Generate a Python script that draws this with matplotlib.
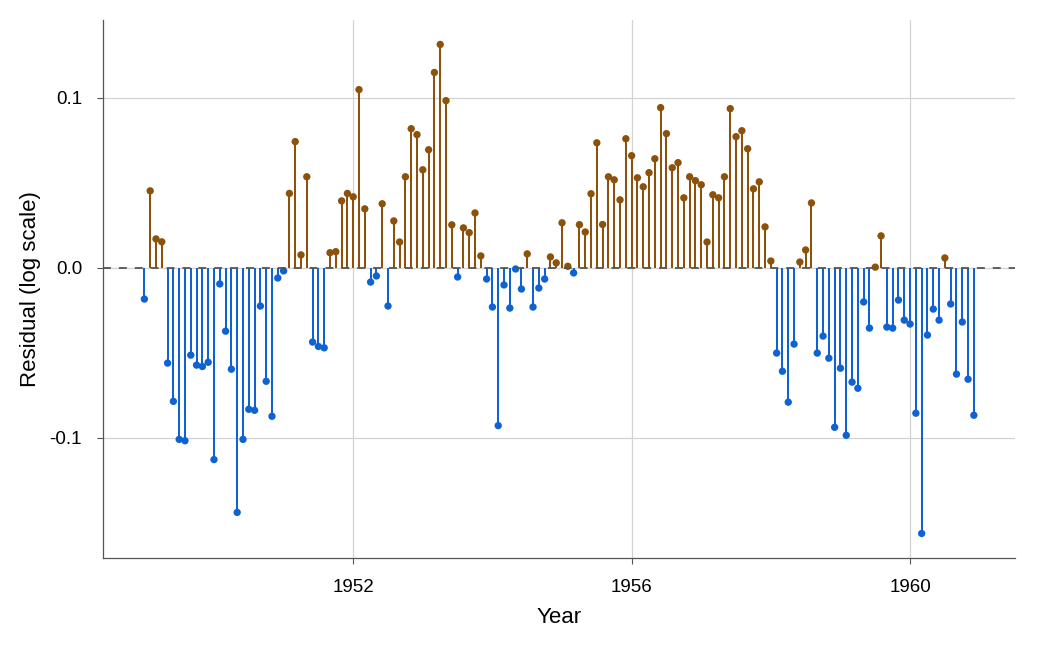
import numpy as np
import matplotlib
matplotlib.use("Agg")
import matplotlib.pyplot as plt

plt.rcParams['font.family'] = ['Liberation Sans', 'DejaVu Sans']
plt.rcParams['axes.unicode_minus'] = False

start_year = 1949
r1949 = [-0.0185, 0.0452, 0.0169, 0.0152, -0.0562, -0.0787, -0.1011, -0.1019, -0.0515, -0.0574, -0.0582, -0.0557]
r1950 = [-0.1130, -0.0096, -0.0374, -0.0598, -0.1441, -0.1011, -0.0834, -0.0840, -0.0226, -0.0669, -0.0875, -0.0061]
r1951 = [-0.0019, 0.0437, 0.0742, 0.0075, 0.0535, -0.0438, -0.0464, -0.0472, 0.0088, 0.0094, 0.0393, 0.0437]
r1952 = [0.0417, 0.1048, 0.0346, -0.0085, -0.0049, 0.0376, -0.0226, 0.0275, 0.0151, 0.0535, 0.0818, 0.0783]
r1953 = [0.0576, 0.0694, 0.1149, 0.1314, 0.0983, 0.0252, -0.0055, 0.0234, 0.0206, 0.0322, 0.0069, -0.0067]
r1954 = [-0.0232, -0.0930, -0.0102, -0.0238, -0.0008, -0.0126, 0.0081, -0.0232, -0.0120, -0.0067, 0.0063, 0.0028]
r1955 = [0.0264, 0.0008, -0.0031, 0.0253, 0.0210, 0.0435, 0.0735, 0.0254, 0.0535, 0.0517, 0.0399, 0.0759]
r1956 = [0.0659, 0.0529, 0.0476, 0.0559, 0.0641, 0.0942, 0.0789, 0.0588, 0.0618, 0.0411, 0.0535, 0.0512]
r1957 = [0.0488, 0.0151, 0.0429, 0.0411, 0.0535, 0.0936, 0.0771, 0.0806, 0.0700, 0.0464, 0.0505, 0.0240]
r1958 = [0.0039, -0.0503, -0.0610, -0.0792, -0.0450, 0.0033, 0.0104, 0.0381, -0.0503, -0.0403, -0.0533, -0.0940]
r1959 = [-0.0592, -0.0987, -0.0674, -0.0710, -0.0202, -0.0356, 0.0003, 0.0187, -0.0350, -0.0356, -0.0191, -0.0309]
r1960 = [-0.0332, -0.0857, -0.1565, -0.0397, -0.0244, -0.0309, 0.0057, -0.0214, -0.0627, -0.0320, -0.0657, -0.0869]

x_ticks = [1952, 1956, 1960]
y_ticks = [-0.1, 0.0, 0.1]
x_label = "Year"
y_label = "Residual (log scale)"
col_pos = "#8C510A"
col_neg = "#0F62D2"

resid = np.array(r1949 + r1950 + r1951 + r1952 + r1953 + r1954 +
                 r1955 + r1956 + r1957 + r1958 + r1959 + r1960)
t = start_year + np.arange(len(resid)) / 12.0
colors = np.where(resid >= 0, col_pos, col_neg)

fig = plt.figure(figsize=(10.5, 6.45), dpi=100)
ax = fig.add_axes([0.098, 0.135, 0.869, 0.834])

ax.vlines(t, 0, resid, colors=colors, linewidth=1.45, zorder=3)
ax.scatter(t, resid, c=colors, s=28, zorder=4, linewidths=0)
hl = ax.axhline(0, color="#555555", linewidth=1.3, zorder=5)
hl.set_dashes((4.4, 4.4))

ax.margins(x=0.05, y=0.05)
ax.set_xticks(x_ticks)
ax.set_yticks(y_ticks)
ax.set_yticklabels([f"{v:.1f}" for v in y_ticks])
ax.grid(True, color="#d3d3d3", linewidth=0.9, zorder=0)
ax.set_axisbelow(True)

for s in ["top", "right"]:
    ax.spines[s].set_visible(False)
for s in ["left", "bottom"]:
    ax.spines[s].set_color("#555555")
    ax.spines[s].set_linewidth(0.9)
ax.tick_params(axis="both", colors="#555555", length=4, width=0.8,
               labelcolor="black", labelsize=13.5)
ax.tick_params(axis="x", pad=11)
ax.tick_params(axis="y", pad=11)
ax.set_xlabel(x_label, fontsize=16, labelpad=8)
ax.set_ylabel(y_label, fontsize=16, labelpad=6)

fig.savefig("out.png", dpi=100, facecolor="white")
